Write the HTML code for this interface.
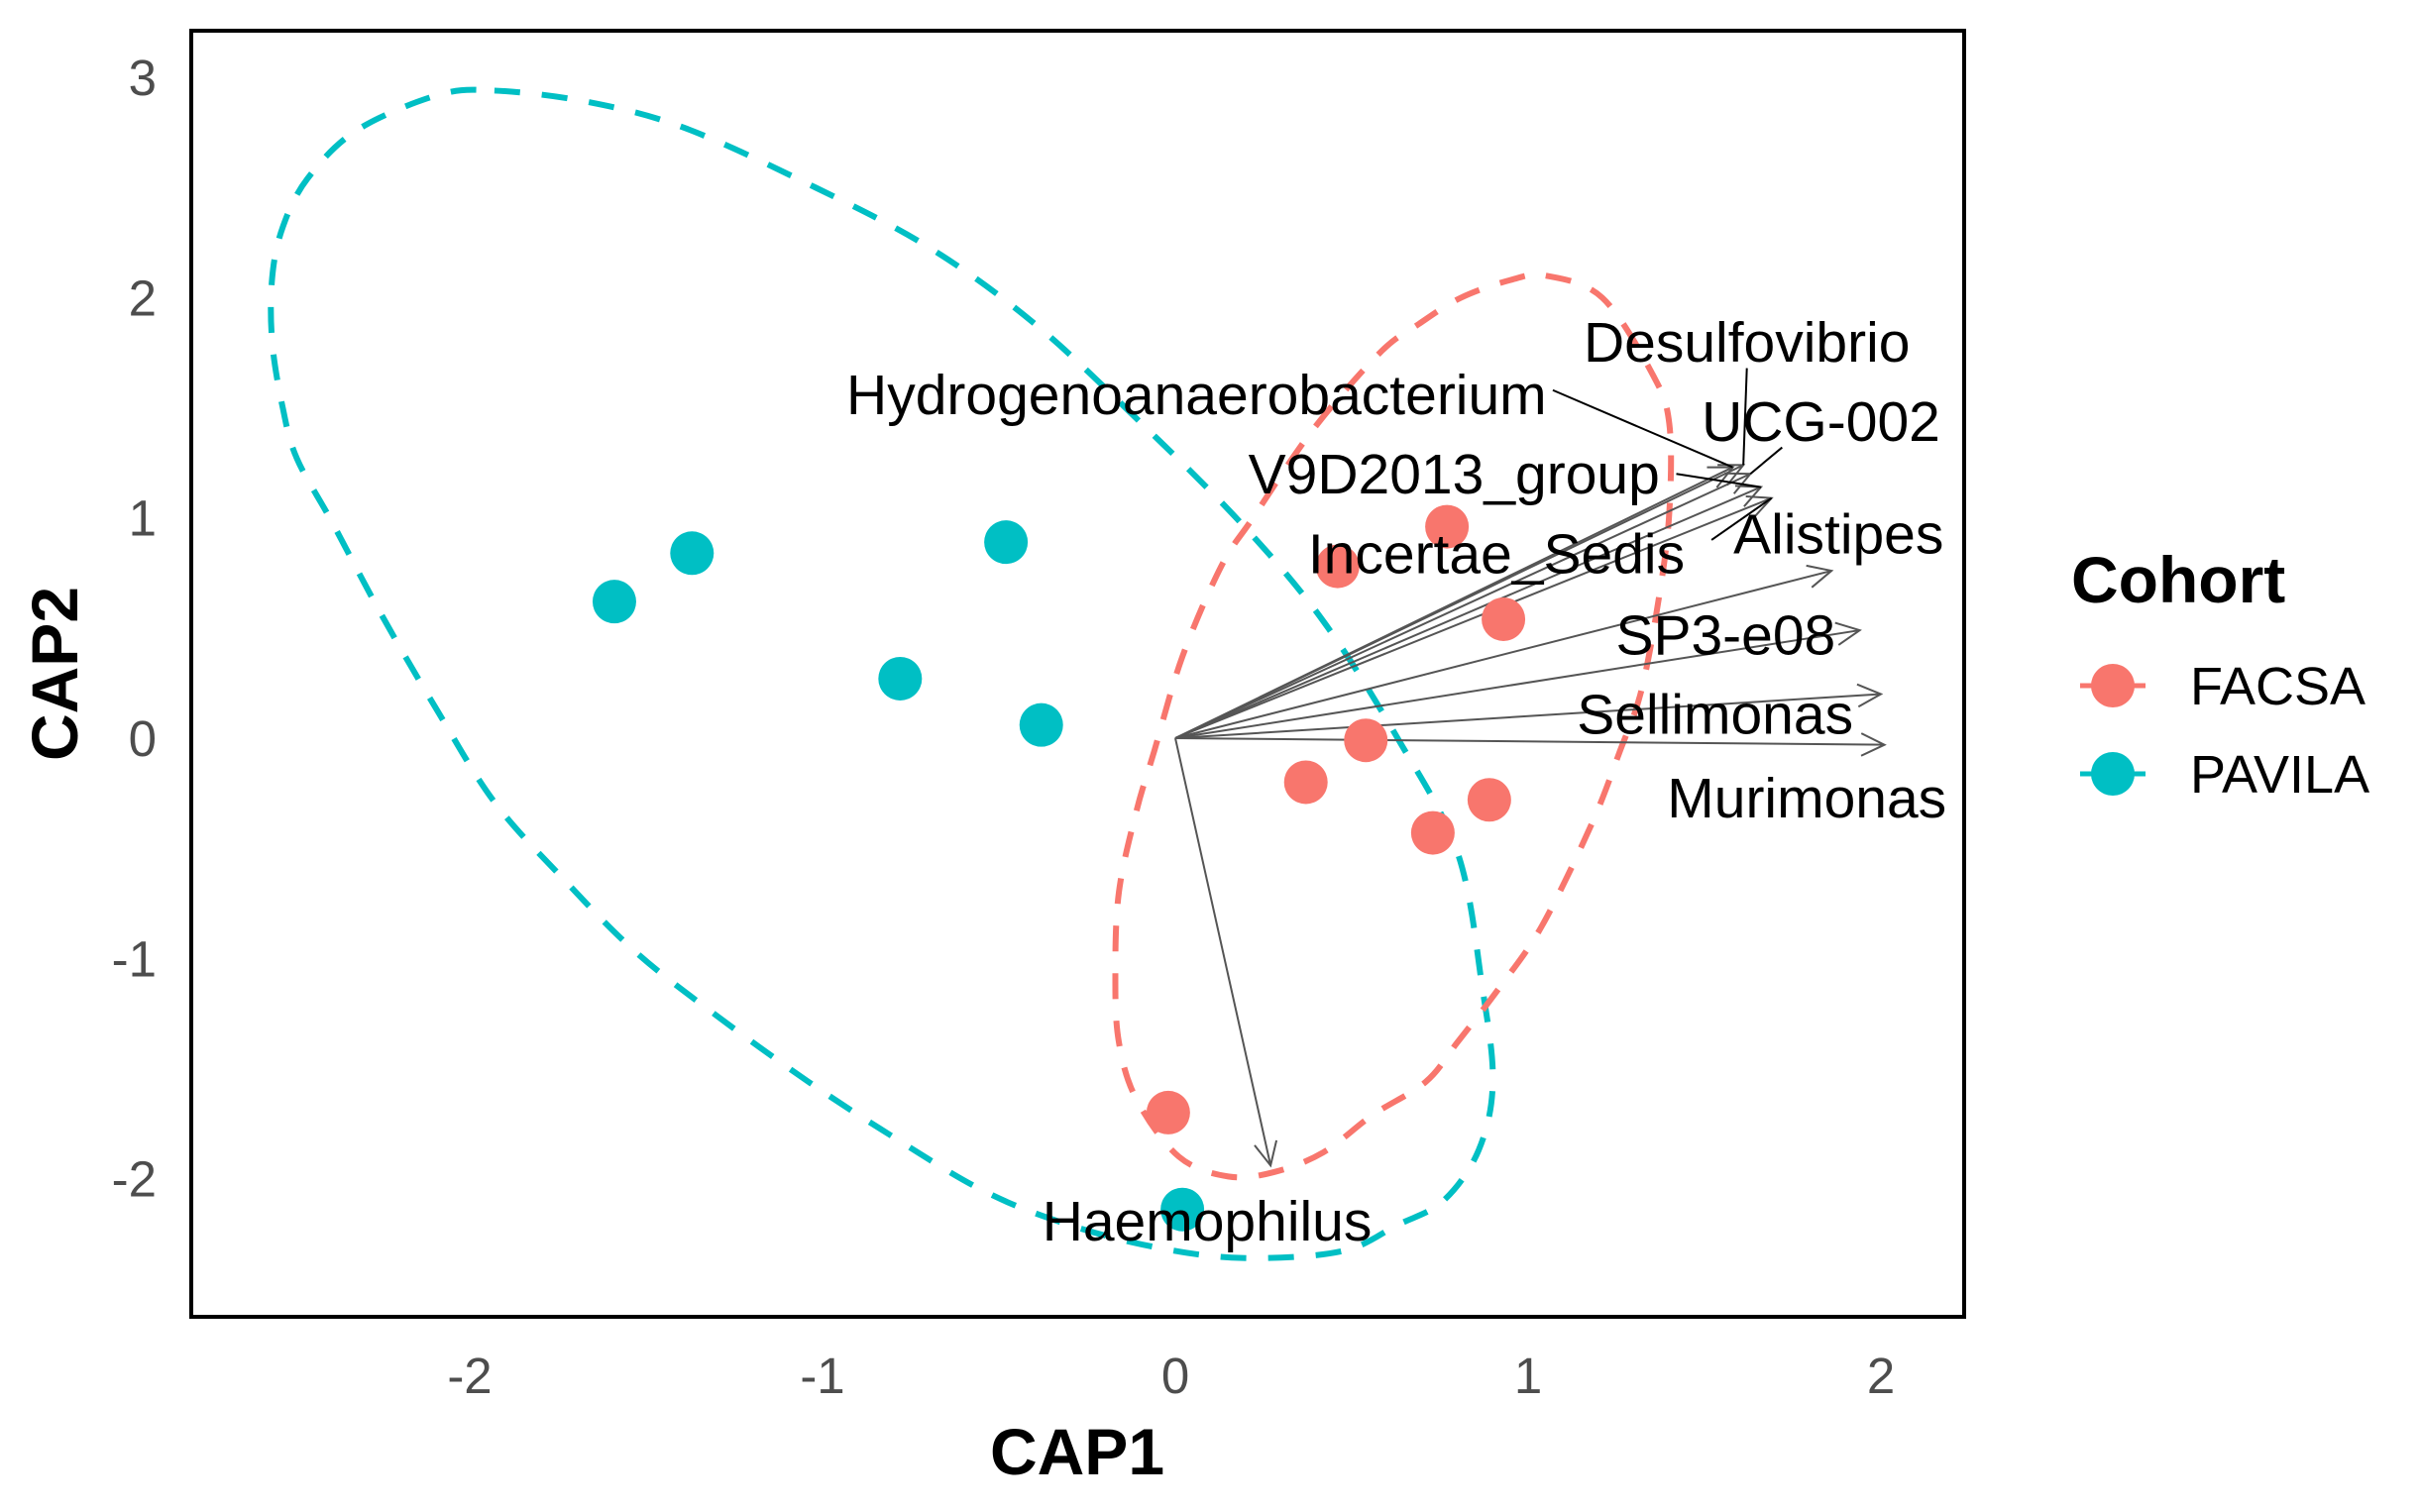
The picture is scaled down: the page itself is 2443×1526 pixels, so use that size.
<!DOCTYPE html>
<html><head><meta charset="utf-8"><style>
html,body{margin:0;padding:0;background:#fff;}
svg{display:block;font-family:"Liberation Sans",Arial,sans-serif;}
</style></head><body>
<svg id="chart" width="2443" height="1526" viewBox="0 0 2443 1526">
<g id="ellipses"></g>
<g id="arrows"></g>
<g id="points"></g>
<g id="labels"></g>
<rect x="193" y="31" width="1789" height="1298" fill="none" stroke="#000" stroke-width="4"/>
<g id="axes"></g>
<text x="1087" y="1488" text-anchor="middle" font-size="66" font-weight="bold" fill="#000">CAP1</text>
<text transform="translate(78,680) rotate(-90)" text-anchor="middle" font-size="66" font-weight="bold" fill="#000">CAP2</text>
<g>
<text x="2090" y="608" font-size="66" font-weight="bold" fill="#000">Cohort</text>
<g>
<line x1="2099" y1="692" x2="2165" y2="692" stroke="#F8766D" stroke-width="5"/>
<circle cx="2132" cy="692" r="22" fill="#F8766D"/>
<text x="2210" y="711" font-size="54" fill="#000">FACSA</text></g>
<g>
<line x1="2099" y1="781" x2="2165" y2="781" stroke="#00BFC4" stroke-width="5"/>
<circle cx="2132" cy="781" r="22" fill="#00BFC4"/>
<text x="2210" y="800" font-size="54" fill="#000">PAVILA</text></g>
</g>
</svg>
<script>
const xTicks=[-2,-1,0,1,2];
const yTicks=[-2,-1,0,1,2,3];
const facsaX=[0.77,0.46,0.93,0.54,0.37,0.89,0.73,-0.02];
const facsaY=[0.96,0.78,0.54,-0.01,-0.20,-0.28,-0.43,-1.70];
const pavilaX=[-1.59,-1.37,-0.48,-0.78,-0.38,0.02];
const pavilaY=[0.62,0.84,0.89,0.27,0.06,-2.14];
const species=["Hydrogenoanaerobacterium","Desulfovibrio","UCG-002","V9D2013_group","Alistipes","Incertae_Sedis","SP3-e08","Sellimonas","Murimonas","Haemophilus"];
const arrowX=[1.58,1.61,1.63,1.66,1.69,1.86,1.94,2.00,2.01,0.27];
const arrowY=[1.23,1.24,1.20,1.14,1.09,0.76,0.49,0.20,-0.03,-1.94];
const labelX=[0.06,1.62,1.83,0.79,1.88,0.91,1.56,1.53,1.79,0.09];
const labelY=[1.56,1.80,1.44,1.20,0.93,0.84,0.47,0.11,-0.27,-2.19];
const leaderFromX=[1.07,1.62,1.72,1.42,1.52];
const leaderFromY=[1.58,1.68,1.32,1.20,0.90];
const facsaEllX=[1.05,1.21,1.35,1.40,1.40,1.37,1.32,1.26,1.18,1.04,0.92,0.80,0.71,0.56,0.42,0.28,0.15,0.01,-0.11,-0.16,-0.17,-0.16,-0.11,-0.06,0.02,0.13,0.22,0.39,0.58,0.69,0.81,0.95];
const facsaEllY=[2.10,2.00,1.66,1.43,1.02,0.63,0.21,-0.06,-0.39,-0.85,-1.13,-1.38,-1.56,-1.71,-1.88,-1.97,-1.99,-1.90,-1.64,-1.38,-1.08,-0.70,-0.33,-0.06,0.37,0.78,1.00,1.40,1.75,1.88,2.00,2.08];
const pavilaEllX=[-1.93,-1.67,-1.39,-1.02,-0.69,-0.39,-0.09,0.19,0.42,0.63,0.80,0.87,0.90,0.86,0.76,0.63,0.47,0.19,-0.06,-0.32,-0.55,-0.81,-1.04,-1.30,-1.53,-1.74,-1.93,-2.09,-2.25,-2.39,-2.49,-2.53,-2.56,-2.56,-2.53,-2.46,-2.32,-2.09];
const pavilaEllY=[2.94,2.89,2.77,2.50,2.22,1.87,1.42,0.97,0.53,0.00,-0.52,-1.13,-1.56,-1.87,-2.10,-2.21,-2.33,-2.36,-2.31,-2.20,-2.05,-1.80,-1.56,-1.26,-0.97,-0.63,-0.29,0.12,0.56,0.98,1.27,1.50,1.80,2.09,2.32,2.54,2.76,2.92];

const NS="http://www.w3.org/2000/svg";
const sx=v=>1186+v*356;
const sy=v=>745-v*222.3;
function mk(tag,attrs,parent){const e=document.createElementNS(NS,tag);for(const k in attrs)e.setAttribute(k,attrs[k]);parent.appendChild(e);return e;}

const axes=document.getElementById('axes');
xTicks.forEach(t=>{
  const e=mk('text',{x:sx(t),y:1406,'text-anchor':'middle','font-size':51,fill:'#4d4d4d'},axes);
  e.textContent=t;
  
  
});
yTicks.forEach(t=>{
  const e=mk('text',{x:158,y:sy(t)+18,'text-anchor':'end','font-size':51,fill:'#4d4d4d'},axes);
  e.textContent=t;
  
  
});

function smooth(xs,ys){
  const p=xs.map((x,i)=>[sx(x),sy(ys[i])]);const n=p.length;let d=`M${p[0][0]},${p[0][1]}`;
  for(let i=0;i<n;i++){const p0=p[(i-1+n)%n],p1=p[i],p2=p[(i+1)%n],p3=p[(i+2)%n];
    const c1=[p1[0]+(p2[0]-p0[0])/6,p1[1]+(p2[1]-p0[1])/6],c2=[p2[0]-(p3[0]-p1[0])/6,p2[1]-(p3[1]-p1[1])/6];
    d+=`C${c1[0]},${c1[1]} ${c2[0]},${c2[1]} ${p2[0]},${p2[1]}`;}
  return d+'Z';
}
const eg=document.getElementById('ellipses');
const e1=mk('path',{d:smooth(pavilaEllX,pavilaEllY),fill:'none',stroke:'#00BFC4','stroke-width':6,'stroke-dasharray':'26 22'},eg);


const e2=mk('path',{d:smooth(facsaEllX,facsaEllY),fill:'none',stroke:'#F8766D','stroke-width':6,'stroke-dasharray':'26 22'},eg);



const ag=document.getElementById('arrows');
species.forEach((s,i)=>{
  const x0=sx(0),y0=sy(0),x1=sx(arrowX[i]),y1=sy(arrowY[i]);
  const a=Math.atan2(y1-y0,x1-x0),L=26,w=0.45;
  const g=mk('g',{stroke:'#555','stroke-width':2,fill:'none'},ag);
  
  
  mk('line',{x1:x0,y1:y0,x2:x1,y2:y1},g);
  mk('polyline',{points:`${x1-L*Math.cos(a-w)},${y1-L*Math.sin(a-w)} ${x1},${y1} ${x1-L*Math.cos(a+w)},${y1-L*Math.sin(a+w)}`},g);
});
leaderFromX.forEach((lx,i)=>{
  const l=mk('line',{x1:sx(lx),y1:sy(leaderFromY[i]),x2:sx(arrowX[i]),y2:sy(arrowY[i]),stroke:'#000','stroke-width':2},ag);
  
  
});

const pg=document.getElementById('points');
facsaX.forEach((x,i)=>{
  const c=mk('circle',{cx:sx(x),cy:sy(facsaY[i]),r:22,fill:'#F8766D'},pg);
  
  
});
pavilaX.forEach((x,i)=>{
  const c=mk('circle',{cx:sx(x),cy:sy(pavilaY[i]),r:22,fill:'#00BFC4'},pg);
  
  
});

const lg=document.getElementById('labels');
species.forEach((s,i)=>{
  const t=mk('text',{x:sx(labelX[i]),y:sy(labelY[i])+20,'text-anchor':'middle','font-size':57,fill:'#000'},lg);
  t.textContent=s;
  
  
});
</script>
</body></html>
